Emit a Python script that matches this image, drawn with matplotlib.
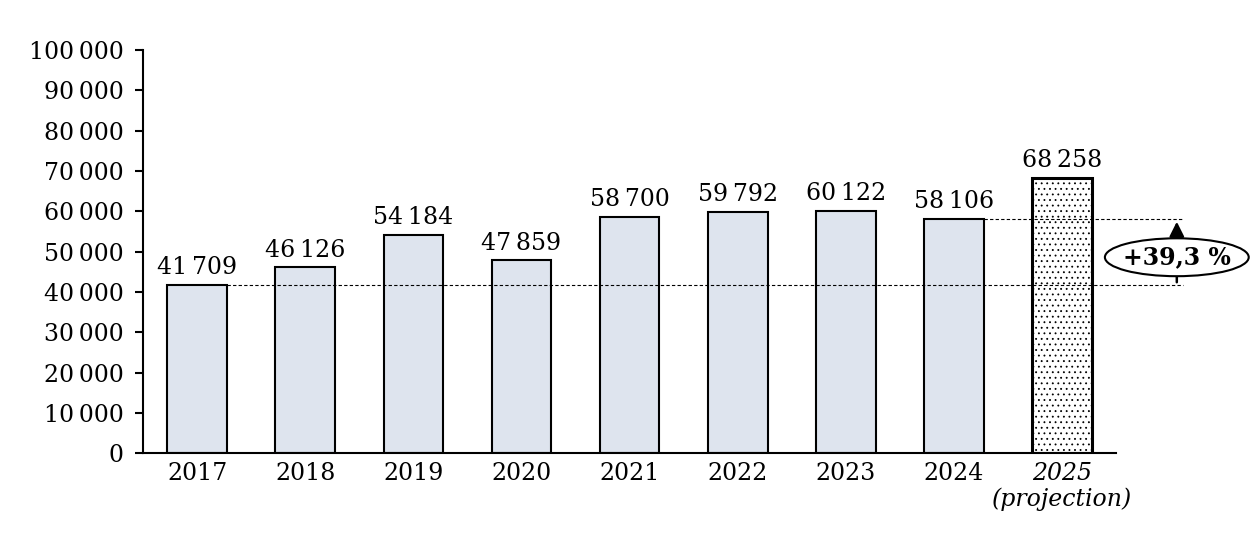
import matplotlib
matplotlib.use("Agg")
import matplotlib.pyplot as plt
from matplotlib.patches import Ellipse

plt.rcParams['font.family'] = ['DejaVu Serif']
plt.rcParams['hatch.linewidth'] = 0.6

T = "\u2009"
years = ["2017", "2018", "2019", "2020", "2021", "2022", "2023", "2024", "2025\n(projection)"]
values = [41709, 46126, 54184, 47859, 58700, 59792, 60122, 58106, 68258]
labels = ["41 709", "46 126", "54 184", "47 859", "58 700", "59 792", "60 122", "58 106", "68 258"]
yticks = [0, 10000, 20000, 30000, 40000, 50000, 60000, 70000, 80000, 90000, 100000]
ytick_labels = ["0", "10 000", "20 000", "30 000", "40 000", "50 000", "60 000", "70 000", "80 000", "90 000", "100 000"]
growth_label = "+39,3 %"

def thin(s):
    return s.replace(" ", T)

fig = plt.figure(figsize=(12.5, 5.44), dpi=100)
ax = fig.add_axes([0.1144, 0.167, 0.7786, 0.741])

x = list(range(len(years)))
fs = 17
for i, v in enumerate(values):
    if i == len(values) - 1:
        ax.bar(i, v, width=0.55, facecolor="white", edgecolor="black", linewidth=2.2, hatch="...")
    else:
        ax.bar(i, v, width=0.55, facecolor="#DEE4EE", edgecolor="black", linewidth=1.5)
    ax.text(i, v + 1400, thin(labels[i]), ha="center", va="bottom", fontsize=fs)

ax.set_xlim(-0.5, len(years) - 0.5)
ax.set_ylim(0, 100000)
ax.set_yticks(yticks)
ax.set_yticklabels([thin(t) for t in ytick_labels], fontsize=fs)
ax.set_xticks(x)
ax.set_xticklabels([""] * len(years))
for i, y in enumerate(years):
    if i == len(years) - 1:
        ax.text(i, -2300, y, ha="center", va="top", fontsize=fs, style="italic",
                linespacing=1.1)
    else:
        ax.text(i, -2300, y, ha="center", va="top", fontsize=fs)

for s in ["top", "right"]:
    ax.spines[s].set_visible(False)
for s in ["left", "bottom"]:
    ax.spines[s].set_linewidth(1.5)
ax.tick_params(axis="y", direction="out", length=6, width=1.5, pad=8)
ax.tick_params(axis="x", length=0, pad=8)

# dashed reference lines
xr = 9.12
ax.plot([0.275, xr], [values[0], values[0]], ls=(0, (3, 2)), color="black", lw=0.8, clip_on=False)
ax.plot([7.275, xr], [values[7], values[7]], ls=(0, (3, 2)), color="black", lw=0.8, clip_on=False)

# arrow
xa = 9.06
ax.annotate("", xy=(xa, values[7]), xytext=(xa, values[0]),
            arrowprops=dict(arrowstyle="-|>", color="black", lw=1.8, mutation_scale=22),
            annotation_clip=False)
ymid = 48600
ell = Ellipse((xa, ymid), width=1.33, height=9400, facecolor="white", edgecolor="black",
              lw=1.5, clip_on=False, zorder=5)
ax.add_patch(ell)
ax.text(xa, ymid, growth_label, ha="center", va="center", fontsize=fs, fontweight="bold", zorder=6)

fig.savefig("out.png", dpi=100)
